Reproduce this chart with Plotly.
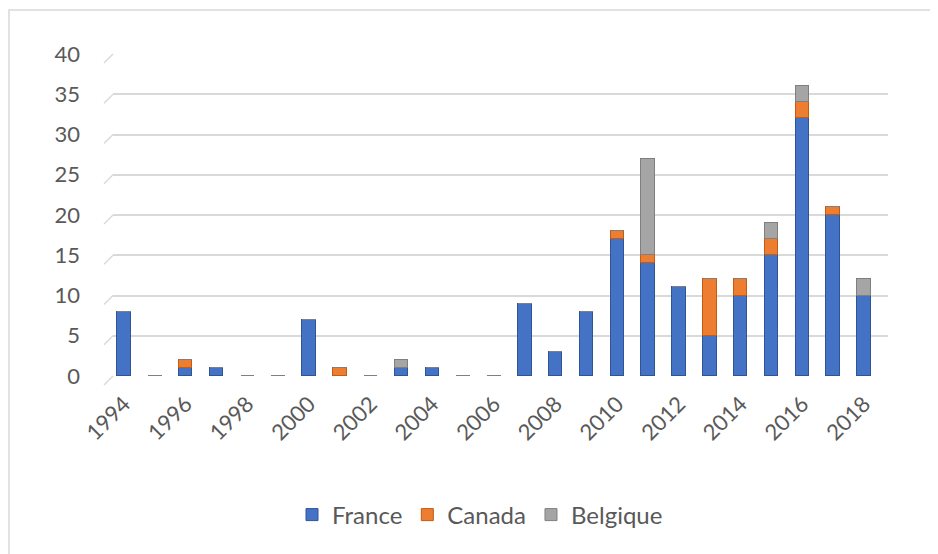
import plotly.graph_objects as go

years = list(range(1994, 2019))
france = [8, 0, 1, 1, 0, 0, 7, 0, 0, 1, 1, 0, 0, 9, 3, 8, 17, 14, 11, 5, 10, 15, 32, 20, 10]
canada = [0, 0, 1, 0, 0, 0, 0, 1, 0, 0, 0, 0, 0, 0, 0, 0, 1, 1, 0, 7, 2, 2, 2, 1, 0]
belgique = [0, 0, 0, 0, 0, 0, 0, 0, 0, 1, 0, 0, 0, 0, 0, 0, 0, 12, 0, 0, 0, 2, 2, 0, 2]
y_ticks = [0, 5, 10, 15, 20, 25, 30, 35, 40]
x_ticks = list(range(1994, 2019, 2))

series = [
    ("France", france, "#4472C4", "#2F5597"),
    ("Canada", canada, "#ED7D31", "#C55A11"),
    ("Belgique", belgique, "#A5A5A5", "#7F7F7F"),
]

fig = go.Figure()
for name, vals, col, edge in series:
    fig.add_trace(go.Bar(
        x=years, y=vals, name=name,
        marker=dict(color=col, line=dict(color=edge, width=1)),
        width=0.44,
    ))

W, H = 938, 554
OFF = 8  # page body margin
PL, PR, PT, PB = 113, 888, 54, 376
L = PL - OFF
T = PT - OFF
R = W - (PR - OFF)
B = H - (PB - OFF)
pw, ph = PR - PL, PB - PT

def px_x(p):
    return (p - PL) / pw

def px_y(q):
    return (PB - q) / ph

shapes = []
for v in y_ticks:
    yb = v / 40
    shapes.append(dict(type="line", xref="paper", yref="paper",
                       x0=px_x(104), y0=yb - 9 / ph, x1=0, y1=yb,
                       line=dict(color="#D9D9D9", width=1.5)))
shapes.append(dict(type="rect", xref="paper", yref="paper",
                   x0=px_x(9), y0=px_y(570), x1=px_x(960), y1=px_y(10),
                   line=dict(color="#D9D9D9", width=1.5), fillcolor="rgba(0,0,0,0)",
                   layer="below"))

fig.update_layout(
    width=W, height=H,
    barmode="stack",
    plot_bgcolor="white", paper_bgcolor="white",
    margin=dict(l=L, r=R, t=T, b=B, autoexpand=False),
    font=dict(family="Lato", color="#595959", size=22),
    showlegend=True,
    legend=dict(orientation="h", x=px_x(480), xanchor="center",
                y=px_y(515), yanchor="middle",
                font=dict(size=24, color="#595959"),
                itemwidth=30, traceorder="normal"),
    xaxis=dict(range=[-0.357 + 1994, 24.78 + 1994], tickmode="array",
               tickvals=x_ticks, ticktext=[str(t) for t in x_ticks],
               tickangle=-45, showgrid=False, zeroline=False,
               showline=False, ticks="", ticklabelstandoff=10,
               tickfont=dict(size=22, color="#595959")),
    yaxis=dict(range=[0, 40], tickmode="array", tickvals=y_ticks,
               showgrid=True, gridcolor="#D9D9D9", gridwidth=1.8,
               zeroline=False, showline=False, ticks="",
               ticklabelstandoff=32,
               tickfont=dict(size=22, color="#595959")),
    shapes=shapes,
    bargap=0,
)

fig.write_html("out.html")
